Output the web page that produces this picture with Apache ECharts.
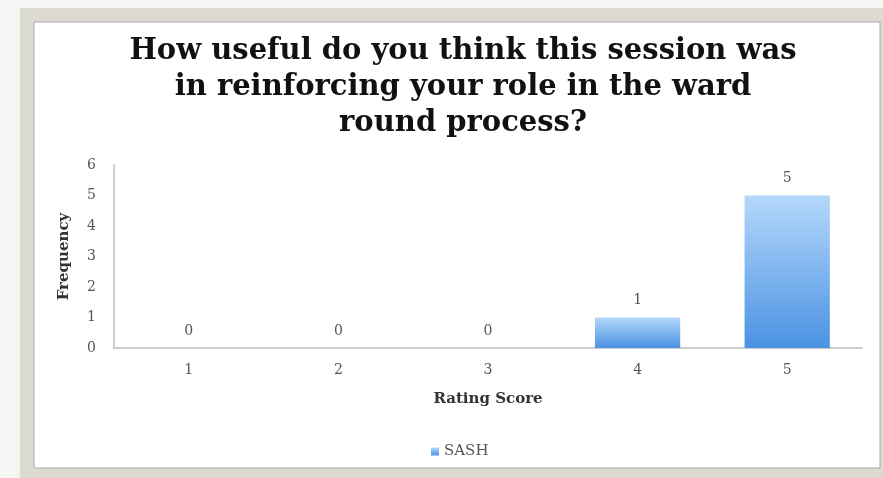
<!DOCTYPE html>
<html>
<head>
<meta charset="utf-8"/>
<script src="https://cdn.jsdelivr.net/npm/echarts@6/dist/echarts.min.js"></script>
<style>
  html,body{margin:0;padding:0;background:#f4f6f4;}
  #chart{width:883px;height:478px;}
</style>
</head>
<body>
<div id="chart"></div>
<script>
// rating categories and counts for SASH
var ratings = ['1','2','3','4','5'];
var sash = [0,0,0,1,5];
var yTicks = [0,1,2,3,4,5,6];

var serif = "'DejaVu Serif', 'Liberation Serif', serif";
var chart = echarts.init(document.getElementById('chart'));

chart.setOption({
  backgroundColor:'#f4f6f4',
  graphic:[
    {type:'rect', z:-10, shape:{x:20,y:8,width:880,height:480},
     style:{fill:'#dcdad1'}},
    {type:'rect', z:-9, shape:{x:34,y:22,width:846,height:446},
     style:{fill:'#ffffff', stroke:'#a9a9a6', lineWidth:1}}
  ],
  title:{
    text:'How useful do you think this session was\nin reinforcing your role in the ward\nround process?',
    left:458, textAlign:'center', top:28,
    textStyle:{fontFamily:serif, fontWeight:'bold', fontSize:29, lineHeight:36, color:'#111'}
  },
  legend:{
    data:['SASH'], left:426, top:439,
    icon:'rect', itemWidth:8, itemHeight:8, itemGap:4,
    textStyle:{fontFamily:serif, fontSize:15, color:'#555'}
  },
  grid:{left:114, right:21, top:165, bottom:130},
  xAxis:{
    type:'category', data:ratings,
    name:'Rating Score', nameLocation:'middle', nameGap:44,
    nameTextStyle:{fontFamily:serif, fontWeight:'bold', fontSize:15, color:'#333'},
    axisLine:{lineStyle:{color:'#bdbdbd', width:1.5}},
    axisTick:{show:false},
    axisLabel:{fontFamily:serif, fontSize:14, color:'#555', margin:15}
  },
  yAxis:{
    type:'value', min:yTicks[0], max:yTicks[yTicks.length-1], interval:1,
    name:'Frequency', nameLocation:'middle', nameGap:42, nameRotate:90,
    nameTextStyle:{fontFamily:serif, fontWeight:'bold', fontSize:15, color:'#333'},
    axisLine:{show:true, lineStyle:{color:'#bdbdbd', width:1.5}},
    axisTick:{show:false},
    splitLine:{show:false},
    axisLabel:{fontFamily:serif, fontSize:14, color:'#555', margin:18}
  },
  series:[{
    name:'SASH', type:'bar', data:sash, barWidth:'57%',
    itemStyle:{color:new echarts.graphic.LinearGradient(0,0,0,1,[
      {offset:0, color:'#b4d8fb'},
      {offset:1, color:'#4b92e2'}
    ])},
    label:{show:true, position:'top', distance:10,
      fontFamily:serif, fontSize:14, color:'#555'}
  }]
});
</script>
</body>
</html>
